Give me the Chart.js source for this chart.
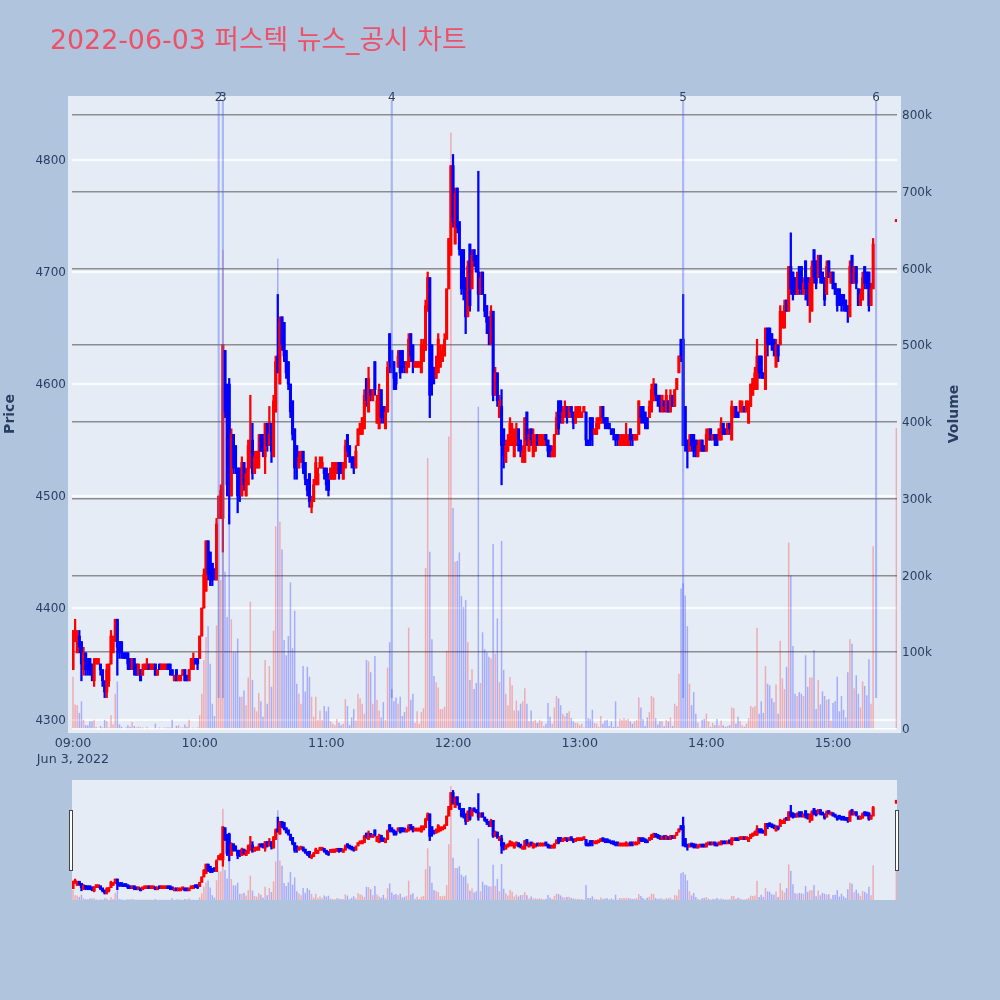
<!DOCTYPE html>
<html>
<head>
<meta charset="utf-8">
<title>2022-06-03 퍼스텍 뉴스_공시 차트</title>
<script src="https://cdn.jsdelivr.net/npm/chart.js@4/dist/chart.umd.min.js"></script>
<style>
  html, body { margin: 0; padding: 0; background: #b0c4de; overflow: hidden; }
  #wrap { position: relative; width: 1000px; height: 1000px; }
  canvas { position: absolute; left: 0; }
  #mainChart { top: 0; }
  #sliderChart { top: 780px; }
  .grabber { position: absolute; top: 810px; width: 2px; height: 59px; background: #fff; border: 1.5px solid #444; }
</style>
</head>
<body>
<div id="wrap">
  <canvas id="mainChart" width="1000" height="770"></canvas>
  <canvas id="sliderChart" width="1000" height="120"></canvas>
  <div class="grabber" style="left:69px"></div>
  <div class="grabber" style="left:895px"></div>
</div>
<script>
var chartTitle = "2022-06-03 퍼스텍 뉴스_공시 차트";

// minutes after 09:00, one candle per minute, then the closing auction
var minutes = [
  0,1,2,3,4,5,6,7,8,9,10,11,12,13,14,15,16,17,18,19,20,21,22,23,24,25,26,27,28,29,
  30,31,32,33,34,35,36,37,38,39,40,41,42,43,44,45,46,47,48,49,50,51,52,53,54,55,56,57,58,59,
  60,61,62,63,64,65,66,67,68,69,70,71,72,73,74,75,76,77,78,79,80,81,82,83,84,85,86,87,88,89,
  90,91,92,93,94,95,96,97,98,99,100,101,102,103,104,105,106,107,108,109,110,111,112,113,114,115,116,117,118,119,
  120,121,122,123,124,125,126,127,128,129,130,131,132,133,134,135,136,137,138,139,140,141,142,143,144,145,146,147,148,149,
  150,151,152,153,154,155,156,157,158,159,160,161,162,163,164,165,166,167,168,169,170,171,172,173,174,175,176,177,178,179,
  180,181,182,183,184,185,186,187,188,189,190,191,192,193,194,195,196,197,198,199,200,201,202,203,204,205,206,207,208,209,
  210,211,212,213,214,215,216,217,218,219,220,221,222,223,224,225,226,227,228,229,230,231,232,233,234,235,236,237,238,239,
  240,241,242,243,244,245,246,247,248,249,250,251,252,253,254,255,256,257,258,259,260,261,262,263,264,265,266,267,268,269,
  270,271,272,273,274,275,276,277,278,279,280,281,282,283,284,285,286,287,288,289,290,291,292,293,294,295,296,297,298,299,
  300,301,302,303,304,305,306,307,308,309,310,311,312,313,314,315,316,317,318,319,320,321,322,323,324,325,326,327,328,329,
  330,331,332,333,334,335,336,337,338,339,340,341,342,343,344,345,346,347,348,349,350,351,352,353,354,355,356,357,358,359,
  360,361,362,363,364,365,366,367,368,369,370,371,372,373,374,375,376,377,378,379,390
];

var opens = [
  4345,4370,4360,4375,4370,4345,4360,4355,4355,4350,
  4335,4350,4350,4350,4345,4335,4325,4335,4350,4360,
  4370,4390,4370,4370,4360,4360,4360,4355,4345,4355,
  4350,4340,4345,4340,4345,4345,4350,4345,4345,4350,
  4340,4350,4345,4345,4345,4350,4350,4345,4335,4345,
  4335,4335,4340,4345,4340,4335,4345,4345,4355,4355,
  4355,4375,4400,4415,4460,4450,4440,4435,4425,4480,
  4480,4480,4630,4570,4600,4500,4555,4545,4525,4525,
  4500,4530,4500,4510,4525,4550,4520,4525,4525,4555,
  4555,4535,4565,4545,4565,4535,4575,4625,4600,4660,
  4655,4630,4620,4600,4585,4560,4545,4525,4530,4540,
  4530,4515,4520,4490,4495,4510,4510,4525,4525,4525,
  4525,4520,4515,4515,4515,4520,4530,4530,4515,4525,
  4555,4545,4535,4535,4525,4545,4555,4555,4560,4605,
  4575,4595,4585,4620,4565,4560,4595,4580,4560,4575,
  4645,4630,4620,4610,4615,4630,4630,4620,4610,4615,
  4645,4635,4615,4615,4615,4610,4620,4630,4665,4695,
  4635,4615,4605,4610,4615,4620,4625,4640,4685,4715,
  4795,4725,4775,4745,4720,4720,4695,4660,4725,4685,
  4720,4715,4700,4680,4700,4680,4670,4660,4635,4665,
  4590,4610,4570,4580,4560,4530,4540,4545,4545,4535,
  4545,4560,4550,4530,4530,4575,4540,4560,4535,4540,
  4555,4545,4545,4545,4555,4550,4545,4535,4535,4555,
  4585,4585,4565,4570,4580,4570,4580,4575,4565,4570,
  4570,4570,4575,4575,4550,4570,4570,4555,4555,4560,
  4565,4580,4570,4570,4565,4560,4560,4555,4555,4545,
  4545,4545,4545,4545,4560,4555,4550,4550,4555,4580,
  4580,4575,4570,4570,4575,4585,4600,4590,4590,4575,
  4585,4575,4585,4575,4590,4580,4595,4610,4640,4640,
  4580,4550,4540,4555,4555,4550,4535,4540,4550,4545,
  4540,4550,4560,4550,4555,4555,4550,4550,4565,4560,
  4555,4565,4550,4570,4580,4575,4575,4575,4580,4575,
  4565,4580,4590,4595,4595,4625,4625,4610,4595,4650,
  4650,4645,4640,4615,4635,4635,4650,4650,4675,4665,
  4705,4700,4695,4680,4705,4705,4680,4710,4695,4675,
  4665,4720,4710,4695,4715,4700,4695,4680,4710,4690,
  4700,4690,4685,4685,4680,4680,4675,4670,4660,4715,
  4690,4705,4685,4670,4675,4705,4700,4700,4670,4685,
  4745
];

var highs = [
  4380,4390,4380,4380,4370,4365,4360,4355,4355,4350,
  4355,4355,4355,4350,4345,4335,4350,4350,4380,4375,
  4390,4390,4370,4370,4360,4360,4360,4355,4355,4355,
  4350,4350,4345,4350,4350,4355,4350,4350,4350,4350,
  4345,4350,4350,4350,4350,4350,4350,4345,4340,4345,
  4340,4340,4345,4345,4340,4345,4355,4360,4355,4355,
  4375,4400,4435,4460,4460,4450,4440,4435,4480,4500,
  4510,4635,4630,4600,4605,4560,4555,4545,4525,4525,
  4535,4530,4525,4550,4590,4565,4540,4540,4555,4555,
  4555,4565,4565,4580,4565,4590,4625,4680,4660,4660,
  4655,4630,4620,4600,4585,4560,4545,4540,4540,4540,
  4530,4515,4520,4500,4515,4535,4525,4535,4535,4525,
  4525,4520,4525,4530,4530,4530,4530,4530,4530,4550,
  4555,4545,4535,4535,4545,4560,4565,4570,4595,4605,
  4615,4595,4595,4620,4590,4600,4595,4580,4580,4620,
  4645,4630,4620,4610,4630,4630,4630,4620,4620,4645,
  4645,4635,4620,4620,4620,4640,4640,4675,4700,4695,
  4635,4615,4625,4645,4635,4635,4645,4685,4730,4795,
  4805,4775,4775,4745,4720,4720,4695,4710,4725,4720,
  4720,4715,4790,4700,4700,4680,4670,4660,4670,4665,
  4615,4610,4590,4595,4560,4550,4555,4570,4565,4560,
  4565,4560,4550,4545,4570,4575,4560,4560,4560,4555,
  4555,4555,4555,4555,4555,4550,4545,4545,4555,4575,
  4585,4585,4580,4585,4580,4580,4580,4575,4580,4580,
  4580,4575,4580,4575,4550,4570,4570,4560,4570,4570,
  4580,4580,4570,4570,4565,4560,4560,4555,4555,4555,
  4555,4555,4565,4555,4560,4555,4555,4555,4585,4580,
  4580,4575,4570,4585,4600,4605,4600,4590,4590,4590,
  4585,4595,4585,4595,4590,4595,4605,4625,4640,4680,
  4580,4550,4555,4555,4555,4550,4550,4550,4550,4545,
  4560,4560,4560,4555,4555,4555,4560,4570,4565,4560,
  4565,4565,4585,4580,4580,4575,4585,4585,4580,4585,
  4585,4600,4605,4615,4640,4625,4625,4610,4650,4650,
  4650,4645,4640,4640,4635,4670,4665,4675,4675,4705,
  4735,4700,4695,4700,4705,4705,4695,4710,4695,4695,
  4710,4720,4710,4715,4715,4700,4695,4710,4710,4700,
  4700,4690,4685,4685,4680,4680,4675,4670,4710,4715,
  4705,4705,4685,4685,4700,4705,4700,4700,4690,4730,
  4745
];

var lows = [
  4345,4370,4360,4360,4335,4340,4340,4340,4340,4335,
  4330,4350,4350,4340,4330,4320,4320,4330,4350,4360,
  4370,4340,4355,4355,4355,4355,4345,4345,4345,4340,
  4340,4340,4335,4340,4345,4345,4345,4345,4345,4340,
  4340,4345,4345,4345,4345,4345,4340,4340,4335,4335,
  4335,4335,4340,4335,4335,4335,4345,4345,4350,4345,
  4355,4375,4400,4415,4425,4420,4420,4425,4425,4480,
  4480,4450,4570,4500,4475,4500,4520,4520,4485,4495,
  4500,4505,4500,4510,4525,4515,4520,4525,4525,4540,
  4535,4520,4540,4545,4530,4535,4575,4610,4600,4630,
  4620,4605,4595,4570,4550,4515,4515,4525,4530,4520,
  4510,4500,4490,4485,4495,4510,4510,4525,4525,4515,
  4505,4500,4515,4515,4515,4520,4515,4520,4515,4525,
  4535,4530,4525,4520,4525,4545,4555,4555,4560,4580,
  4575,4585,4585,4590,4565,4560,4565,4565,4560,4575,
  4610,4610,4595,4595,4615,4605,4610,4610,4610,4615,
  4620,4610,4615,4615,4615,4610,4620,4630,4665,4570,
  4590,4600,4605,4610,4615,4620,4625,4640,4685,4715,
  4740,4725,4735,4715,4680,4675,4645,4660,4665,4685,
  4705,4700,4665,4680,4680,4660,4645,4635,4635,4585,
  4590,4580,4570,4510,4525,4530,4540,4545,4545,4535,
  4545,4540,4535,4530,4530,4545,4540,4545,4535,4540,
  4545,4545,4545,4545,4545,4535,4535,4535,4535,4555,
  4555,4565,4565,4570,4565,4570,4570,4560,4565,4570,
  4570,4570,4575,4545,4545,4545,4545,4555,4555,4560,
  4565,4565,4560,4560,4560,4555,4550,4545,4545,4545,
  4545,4545,4545,4545,4545,4545,4550,4550,4555,4565,
  4565,4560,4560,4570,4575,4585,4585,4580,4575,4575,
  4575,4575,4575,4575,4580,4580,4595,4610,4620,4545,
  4540,4525,4540,4540,4535,4535,4535,4540,4540,4540,
  4540,4550,4550,4550,4545,4545,4550,4550,4555,4555,
  4555,4555,4550,4570,4570,4570,4575,4575,4575,4575,
  4565,4580,4590,4595,4595,4605,4605,4605,4595,4625,
  4635,4630,4625,4615,4620,4635,4650,4650,4665,4665,
  4680,4675,4680,4680,4680,4680,4680,4675,4670,4655,
  4665,4690,4685,4695,4690,4690,4670,4680,4695,4690,
  4685,4680,4665,4670,4665,4665,4665,4655,4660,4690,
  4690,4685,4670,4670,4675,4685,4685,4665,4670,4685,
  4745
];

var closes = [
  4380,4380,4375,4365,4350,4360,4345,4345,4345,4340,
  4350,4355,4355,4345,4335,4325,4345,4350,4375,4370,
  4390,4365,4360,4360,4355,4355,4350,4345,4355,4345,
  4340,4350,4335,4345,4350,4350,4345,4350,4350,4340,
  4345,4345,4350,4350,4350,4345,4345,4340,4340,4335,
  4340,4340,4345,4335,4335,4345,4355,4355,4350,4350,
  4375,4400,4430,4460,4430,4430,4425,4430,4475,4500,
  4505,4635,4575,4510,4520,4555,4525,4525,4500,4510,
  4530,4510,4520,4545,4550,4520,4535,4540,4540,4540,
  4540,4565,4545,4555,4540,4585,4620,4610,4655,4635,
  4625,4610,4600,4575,4555,4525,4530,4535,4540,4525,
  4515,4505,4495,4495,4510,4530,4520,4530,4530,4520,
  4510,4505,4525,4530,4530,4530,4520,4520,4530,4545,
  4540,4535,4530,4525,4540,4560,4565,4570,4590,4585,
  4605,4590,4595,4595,4585,4595,4570,4570,4575,4615,
  4620,4615,4605,4600,4625,4610,4615,4615,4620,4640,
  4625,4620,4620,4620,4620,4635,4635,4670,4695,4590,
  4610,4605,4615,4640,4625,4630,4640,4685,4730,4795,
  4745,4770,4740,4720,4685,4685,4660,4705,4670,4715,
  4710,4700,4680,4695,4680,4665,4655,4645,4665,4590,
  4610,4585,4585,4545,4535,4545,4550,4565,4560,4555,
  4560,4545,4540,4540,4570,4550,4555,4550,4555,4550,
  4545,4555,4555,4550,4550,4540,4535,4540,4555,4570,
  4560,4570,4575,4580,4570,4580,4575,4565,4575,4580,
  4580,4575,4580,4550,4545,4550,4555,4560,4565,4570,
  4580,4570,4565,4565,4560,4555,4555,4550,4550,4550,
  4555,4550,4555,4550,4550,4550,4555,4555,4585,4570,
  4570,4565,4560,4580,4595,4600,4590,4585,4580,4590,
  4580,4590,4575,4590,4580,4595,4605,4625,4625,4545,
  4545,4540,4550,4545,4540,4540,4545,4550,4540,4540,
  4555,4560,4550,4555,4550,4545,4560,4565,4555,4555,
  4565,4560,4580,4580,4570,4570,4585,4580,4575,4585,
  4580,4600,4605,4610,4625,4610,4610,4605,4650,4635,
  4640,4635,4630,4635,4625,4665,4660,4670,4665,4705,
  4685,4680,4680,4695,4685,4685,4690,4685,4675,4690,
  4705,4695,4690,4715,4695,4690,4675,4705,4695,4700,
  4685,4680,4670,4675,4670,4670,4665,4665,4705,4690,
  4705,4690,4670,4680,4695,4690,4690,4670,4685,4725,
  4745
];

// volume in thousands of shares
var volumes = [
  68,32,31,21,36,12,5,5,10,10,
  12,3,1,4,2,12,10,2,18,6,
  46,62,6,3,1,2,5,3,9,4,
  2,3,2,2,1,3,1,1,1,7,
  1,2,1,2,2,2,2,12,1,4,
  5,2,2,6,3,12,1,2,1,2,
  18,46,90,120,134,85,33,17,135,194,
  194,624,205,146,280,143,100,100,118,42,
  42,50,31,67,166,64,28,23,47,36,
  16,90,33,82,55,128,264,613,270,234,
  116,96,121,191,105,154,59,46,33,82,
  49,81,68,42,16,42,12,24,12,30,
  23,29,10,7,5,13,8,5,7,39,
  30,5,15,26,11,46,40,33,20,90,
  88,74,33,95,38,24,15,35,12,80,
  113,52,36,41,33,42,17,22,29,132,
  38,46,8,23,7,22,27,210,353,231,
  117,69,61,54,26,26,29,102,381,777,
  288,218,219,230,173,159,168,113,64,78,
  52,60,420,60,126,104,100,94,92,241,
  98,144,61,245,77,46,31,68,57,24,
  37,24,33,36,53,33,10,24,10,12,
  8,12,10,4,7,34,16,7,28,43,
  40,31,20,17,21,23,14,10,8,8,
  5,7,2,102,14,13,25,8,7,3,
  17,7,11,12,4,10,3,36,3,13,
  12,14,12,13,10,7,10,12,41,28,
  13,4,15,22,43,41,14,6,10,10,
  4,12,10,15,4,33,30,72,183,190,
  174,134,59,31,48,20,8,2,12,13,
  20,10,3,8,5,13,5,11,5,3,
  4,5,28,27,7,16,10,5,3,7,
  14,30,28,30,132,20,36,21,82,59,
  57,40,35,58,20,115,66,52,81,243,
  200,108,46,43,48,46,43,96,55,67,
  67,103,26,64,32,49,43,38,39,11,
  34,36,68,23,43,25,15,74,117,111,
  53,70,46,28,62,56,44,91,33,238,
  392
];

// news / disclosure markers
var eventMinutes = [69, 71, 151, 289, 380.4];
var eventLabels = ["2", "3", "4", "5", "6"];

var timeTicks = [0, 60, 120, 180, 240, 300, 360];
var timeLabels = [["09:00", "Jun 3, 2022"], "10:00", "11:00", "12:00", "13:00", "14:00", "15:00"];
var priceTicks = [4300, 4400, 4500, 4600, 4700, 4800];
var volumeTicks = [0, 100, 200, 300, 400, 500, 600, 700, 800];

var xMin = -0.47, xMax = 390.3;
var priceMin = 4292, priceMax = 4853.6;
var volMin = 0, volMax = 819.5;

var textColor = "#2a3f5f";
var tickFont = { family: "'DejaVu Sans'", size: 12, lineHeight: 1.33 };

function isUp(i) { return closes[i] >= opens[i]; }

function candleDatasets(bodyMin) {
    var barColors = minutes.map(function (m, i) { return isUp(i) ? "#ff0000" : "#0000ff"; });
    var volColors = minutes.map(function (m, i) { return isUp(i) ? "rgba(255,0,0,0.27)" : "rgba(0,0,255,0.27)"; });
    return [
        {
            label: "Volume", yAxisID: "y2", order: 3, grouped: false, barThickness: 1.5, inflateAmount: 0,
            backgroundColor: volColors,
            data: minutes.map(function (m, i) { return { x: m, y: volumes[i] }; })
        },
        {
            label: "Wick", yAxisID: "y", order: 2, grouped: false, barThickness: 1.6, minBarLength: 2,
            backgroundColor: barColors,
            data: minutes.map(function (m, i) { return { x: m, y: [lows[i], highs[i]] }; })
        },
        {
            label: "Price", yAxisID: "y", order: 1, grouped: false, barThickness: 2.4, minBarLength: bodyMin,
            backgroundColor: barColors,
            data: minutes.map(function (m, i) { return { x: m, y: [opens[i], closes[i]] }; })
        }
    ];
}

// plot background sticks out 4px round the axes, like the reference
var plotBackground = {
    id: "plotBackground",
    beforeDraw: function (chart, args, opts) {
        var a = chart.chartArea, ctx = chart.ctx;
        ctx.save();
        ctx.fillStyle = "#e5ecf6";
        ctx.fillRect(a.left - opts.pad, a.top - opts.pad, a.width + opts.pad * 2, a.height + opts.pad * 2);
        ctx.restore();
    }
};

var pageText = {
    id: "pageText",
    afterDraw: function (chart) {
        var ctx = chart.ctx, x = chart.scales.x;
        ctx.save();
        ctx.textBaseline = "alphabetic";
        ctx.textAlign = "left";
        ctx.fillStyle = "#ee5068";
        ctx.font = "26.8px 'DejaVu Sans', 'Noto Sans CJK KR'";
        ctx.fillText(chartTitle, 50, 49);

        ctx.fillStyle = textColor;
        ctx.textAlign = "center";
        ctx.font = "12px 'DejaVu Sans'";
        eventLabels.forEach(function (t, i) {
            ctx.fillText(t, x.getPixelForValue(eventMinutes[i]), 101);
        });

        ctx.font = "bold 14px 'DejaVu Sans'";
        ctx.translate(14, 414);
        ctx.rotate(-Math.PI / 2);
        ctx.fillText("Price", 0, 0);
        ctx.rotate(Math.PI / 2);
        ctx.translate(944, 0);
        ctx.rotate(-Math.PI / 2);
        ctx.fillText("Volume", 0, 0);
        ctx.restore();
    }
};

Chart.defaults.animation = false;
Chart.defaults.responsive = false;
Chart.defaults.plugins.legend.display = false;
Chart.defaults.plugins.tooltip.enabled = false;

var mainSets = candleDatasets(2);
mainSets.push({
    label: "Events", yAxisID: "y", order: 0, grouped: false, barThickness: 1.5,
    backgroundColor: "rgba(80,110,240,0.42)",
    data: eventMinutes.map(function (m) { return { x: m, y: [4320, priceMax] }; })
});

new Chart("mainChart", {
    type: "bar",
    data: { datasets: mainSets },
    plugins: [plotBackground, pageText],
    options: {
        layout: { padding: { top: 100, left: 0, right: 0, bottom: 0 } },
        plugins: { plotBackground: { pad: 4 } },
        scales: {
            x: {
                type: "linear", min: xMin, max: xMax, offset: false,
                grid: { display: false, offset: false }, border: { display: false },
                afterFit: function (s) { s.height = 41; },
                afterBuildTicks: function (s) { s.ticks = timeTicks.map(function (v) { return { value: v }; }); },
                ticks: {
                    color: textColor, font: { family: "'DejaVu Sans'", size: 12.7, lineHeight: 1.26 },
                    padding: -1, autoSkip: false, maxRotation: 0,
                    callback: function (v) { return timeLabels[timeTicks.indexOf(v)]; }
                }
            },
            y: {
                position: "left", min: priceMin, max: priceMax,
                border: { display: false },
                grid: { color: "rgba(255,255,255,0.85)", lineWidth: 2, drawTicks: false },
                afterFit: function (s) { s.width = 72; },
                afterBuildTicks: function (s) { s.ticks = priceTicks.map(function (v) { return { value: v }; }); },
                ticks: {
                    color: textColor, font: tickFont, padding: 6, labelOffset: 1,
                    callback: function (v) { return String(v); }
                }
            },
            y2: {
                position: "right", min: volMin, max: volMax,
                border: { display: false },
                grid: {
                    color: function (c) { return c.tick && c.tick.value === 0 ? "#ffffff" : "#8b8d91"; },
                    lineWidth: 1.5, drawTicks: false
                },
                afterFit: function (s) { s.width = 103; },
                afterBuildTicks: function (s) { s.ticks = volumeTicks.map(function (v) { return { value: v }; }); },
                ticks: {
                    color: textColor, font: tickFont, padding: 5, labelOffset: 1,
                    callback: function (v) { return v === 0 ? "0" : v + "k"; }
                }
            }
        }
    }
});

// range slider underneath: same data, no axes
new Chart("sliderChart", {
    type: "bar",
    data: { datasets: candleDatasets(3) },
    plugins: [plotBackground],
    options: {
        layout: { padding: { left: 72, right: 103, top: 0, bottom: 0 } },
        plugins: { plotBackground: { pad: 0 } },
        scales: {
            x: { type: "linear", min: xMin, max: xMax, offset: false, display: false },
            y: { position: "left", min: priceMin, max: priceMax, display: false },
            y2: { position: "right", min: volMin, max: volMax, display: false }
        }
    }
});
</script>
</body>
</html>
